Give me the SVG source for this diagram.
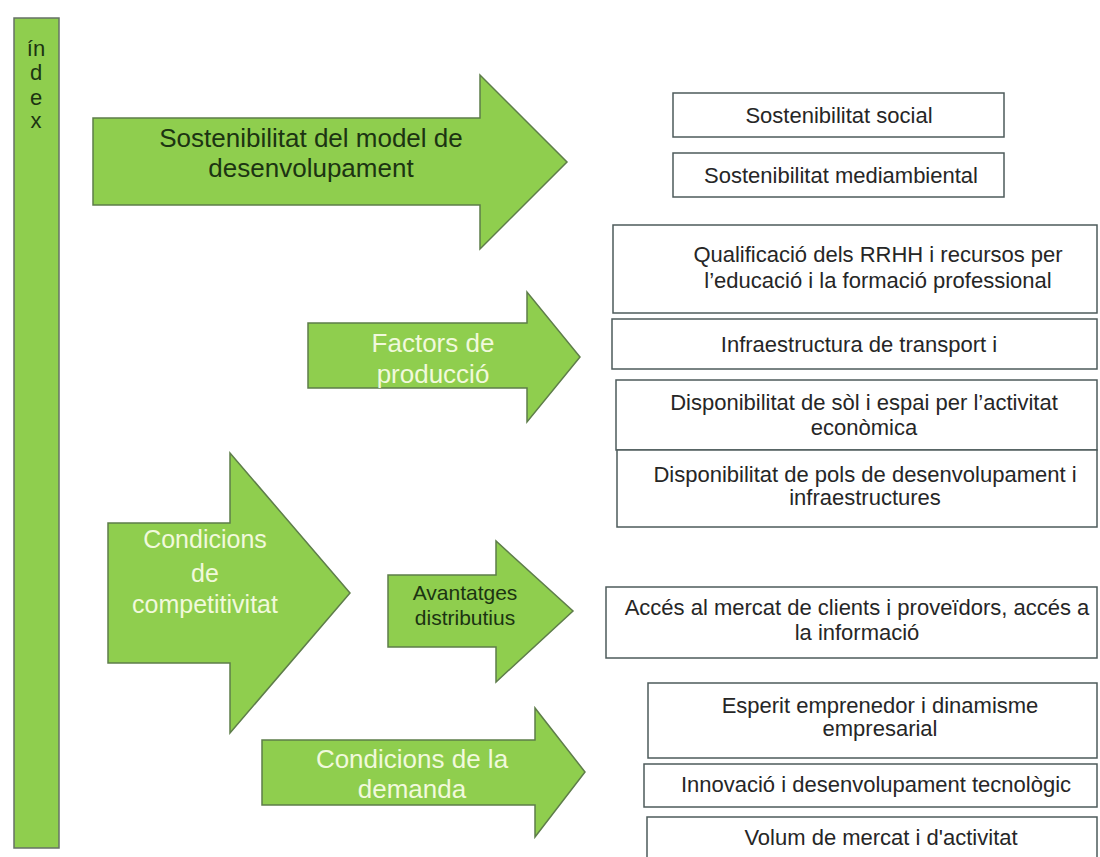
<svg xmlns="http://www.w3.org/2000/svg" width="1100" height="857" viewBox="0 0 1100 857">
<defs>
<style>
.arrow{fill:#8fce4e;stroke:#5e7d4a;stroke-width:1.5}
.bar{fill:#8fce4e;stroke:#667266;stroke-width:1.5}
.box{fill:#ffffff;stroke:#4d5b5b;stroke-width:1.5}
.t{font-family:"Liberation Sans",Arial,sans-serif;text-anchor:middle}
.bt{font-size:22px;fill:#262626}
.dark{fill:#1c3412}
.light{fill:#f1f9dc}
</style>
<clipPath id="cpA2"><polygon points="308,323 527,323 527,292 580,357 527,422 527,388 308,388"/></clipPath>
<clipPath id="cpB4"><rect x="612" y="319" width="488" height="50"/></clipPath>
</defs>
<rect width="1100" height="857" fill="#ffffff"/>

<g id="index">
<rect class="bar" x="14" y="18" width="45" height="830"/>
<text class="t dark" font-size="22" x="36" y="56">ín</text>
<text class="t dark" font-size="22" x="36" y="80">d</text>
<text class="t dark" font-size="22" x="36" y="105">e</text>
<text class="t dark" font-size="22" x="36" y="128">x</text>
</g>

<g id="arrow-sostenibilitat">
<polygon class="arrow" points="93,118 480,118 480,75 567,162 480,249 480,205 93,205"/>
<text class="t dark" font-size="26" x="311" y="147">Sostenibilitat del model de</text>
<text class="t dark" font-size="26" x="311" y="177">desenvolupament</text>
</g>

<g id="arrow-factors">
<polygon class="arrow" points="308,323 527,323 527,292 580,357 527,422 527,388 308,388"/>
<g clip-path="url(#cpA2)">
<text class="t light" font-size="26" x="433" y="352">Factors de</text>
<text class="t light" font-size="26" x="433" y="383">producció</text>
</g>
</g>

<g id="arrow-competitivitat">
<polygon class="arrow" points="108,523 230,523 230,453 350,593 230,733 230,663 108,663"/>
<text class="t light" font-size="25" x="205" y="548">Condicions</text>
<text class="t light" font-size="25" x="205" y="582">de</text>
<text class="t light" font-size="25" x="205" y="613">competitivitat</text>
</g>

<g id="arrow-avantatges">
<polygon class="arrow" points="388,575 496,575 496,541 573,611 496,682 496,647 388,647"/>
<text class="t dark" font-size="21" x="465" y="600">Avantatges</text>
<text class="t dark" font-size="21" x="465" y="625">distributius</text>
</g>

<g id="arrow-demanda">
<polygon class="arrow" points="262,740 535,740 535,708 585,772 535,837 535,805 262,805"/>
<text class="t light" font-size="26" x="412" y="768">Condicions de la</text>
<text class="t light" font-size="26" x="412" y="798">demanda</text>
</g>

<g id="box-social">
<rect class="box" x="673" y="93" width="331" height="44"/>
<text class="t bt" x="839" y="123">Sostenibilitat social</text>
</g>

<g id="box-mediambiental">
<rect class="box" x="673" y="153" width="331" height="44"/>
<text class="t bt" x="841" y="183">Sostenibilitat mediambiental</text>
</g>

<g id="box-qualificacio">
<rect class="box" x="613" y="225" width="484" height="88"/>
<text class="t bt" font-size="20" x="878" y="262">Qualificació dels RRHH i recursos per</text>
<text class="t bt" font-size="20" x="878" y="288">l’educació i la formació professional</text>
</g>

<g id="box-infraestructura">
<rect class="box" x="612" y="319" width="485" height="50"/>
<g clip-path="url(#cpB4)">
<text class="t bt" x="859" y="352">Infraestructura de transport i</text>
</g>
</g>

<g id="box-sol">
<rect class="box" x="616" y="380" width="481" height="70"/>
<text class="t bt" x="864" y="410">Disponibilitat de sòl i espai per l’activitat</text>
<text class="t bt" x="864" y="435">econòmica</text>
</g>

<g id="box-pols">
<rect class="box" x="617" y="450" width="480" height="77"/>
<text class="t bt" x="865" y="482">Disponibilitat de pols de desenvolupament i</text>
<text class="t bt" x="865" y="505">infraestructures</text>
</g>

<g id="box-acces">
<rect class="box" x="606" y="587" width="491" height="71"/>
<text class="t bt" x="857" y="615">Accés al mercat de clients i proveïdors, accés a</text>
<text class="t bt" x="857" y="640">la informació</text>
</g>

<g id="box-esperit">
<rect class="box" x="648" y="683" width="449" height="75"/>
<text class="t bt" x="880" y="713">Esperit emprenedor i dinamisme</text>
<text class="t bt" x="880" y="736">empresarial</text>
</g>

<g id="box-innovacio">
<rect class="box" x="644" y="764" width="453" height="43"/>
<text class="t bt" x="876" y="792">Innovació i desenvolupament tecnològic</text>
</g>

<g id="box-volum">
<rect class="box" x="647" y="817" width="450" height="60"/>
<text class="t bt" x="881" y="845">Volum de mercat i d'activitat</text>
</g>

<g id="connectors"/>
</svg>
